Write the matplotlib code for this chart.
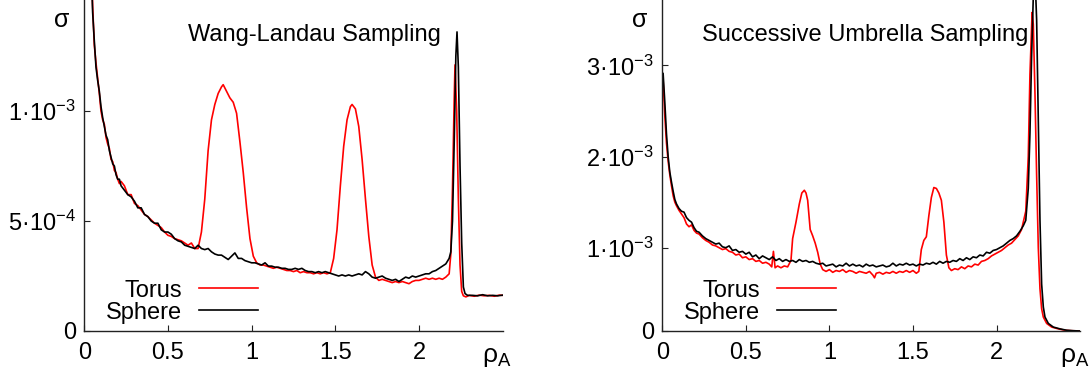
import matplotlib
matplotlib.use("Agg")
import matplotlib.pyplot as plt
import numpy as np

plt.rcParams['font.family'] = ['Liberation Sans', 'DejaVu Sans']
plt.rcParams['mathtext.fontset'] = 'custom'
plt.rcParams['mathtext.rm'] = 'Liberation Sans'
plt.rcParams['mathtext.it'] = 'Liberation Sans:italic'

FS = 17

# ---- Wang-Landau panel (sigma in units of 1e-4) ----
wl_sphere_x = [0.02, 0.04, 0.05, 0.06, 0.07, 0.08, 0.09, 0.10, 0.11, 0.12, 0.13, 0.14, 0.15,
               0.16, 0.17, 0.18, 0.19, 0.20, 0.21, 0.22, 0.24, 0.26, 0.28, 0.30, 0.32, 0.34,
               0.36, 0.38, 0.40, 0.42, 0.44, 0.46, 0.48, 0.50, 0.52, 0.54, 0.56, 0.58, 0.60,
               0.62, 0.64, 0.66, 0.68, 0.70, 0.72, 0.74, 0.76, 0.78, 0.80, 0.82, 0.84, 0.86,
               0.88, 0.90, 0.92, 0.94, 0.96, 0.98, 1.00, 1.02, 1.04, 1.06, 1.08, 1.10, 1.12,
               1.14, 1.16, 1.18, 1.20, 1.22, 1.24, 1.26, 1.28, 1.30, 1.32, 1.34, 1.36, 1.38,
               1.40, 1.42, 1.44, 1.46, 1.48, 1.50, 1.52, 1.54, 1.56, 1.58, 1.60, 1.62, 1.64,
               1.66, 1.68, 1.70, 1.72, 1.74, 1.76, 1.78, 1.80, 1.82, 1.84, 1.86, 1.88, 1.90,
               1.92, 1.94, 1.96, 1.98, 2.00, 2.02, 2.04, 2.06, 2.08, 2.10, 2.12, 2.14, 2.16,
               2.18, 2.19, 2.20, 2.21, 2.22, 2.227, 2.235, 2.245, 2.255, 2.265, 2.275, 2.29,
               2.32, 2.35, 2.38, 2.41, 2.44, 2.47, 2.50]
wl_sphere_y = [25, 17, 14.5, 13.2, 12.0, 11.4, 10.9, 10.2, 9.7, 9.3, 8.9, 8.7, 8.2,
               7.9, 7.6, 7.5, 7.1, 6.9, 6.9, 6.6, 6.4, 6.2, 6.1, 5.9, 5.6, 5.6,
               5.3, 5.2, 5.0, 4.9, 4.9, 4.6, 4.5, 4.5, 4.4, 4.2, 4.1, 4.05, 3.9,
               3.85, 3.8, 3.75, 3.9, 3.75, 3.7, 3.75, 3.6, 3.5, 3.45, 3.45, 3.35, 3.25,
               3.4, 3.55, 3.3, 3.3, 3.2, 3.15, 3.1, 3.1, 3.05, 3.0, 3.1, 2.95, 2.95,
               2.9, 2.9, 2.85, 2.85, 2.8, 2.8, 2.85, 2.8, 2.85, 2.75, 2.7, 2.7, 2.65,
               2.7, 2.65, 2.7, 2.65, 2.6, 2.55, 2.5, 2.55, 2.5, 2.55, 2.5, 2.55, 2.6,
               2.55, 2.7, 2.6, 2.45, 2.4, 2.45, 2.5, 2.4, 2.35, 2.3, 2.35, 2.25, 2.35,
               2.45, 2.4, 2.5, 2.45, 2.5, 2.55, 2.6, 2.6, 2.7, 2.75, 2.85, 2.95, 3.05,
               3.3, 3.6, 5.0, 8.5, 12.5, 13.6, 12.0, 7.5, 4.0, 2.0, 1.7, 1.62,
               1.62, 1.6, 1.65, 1.6, 1.62, 1.6, 1.63]

wl_torus_x = [0.02, 0.04, 0.05, 0.06, 0.07, 0.08, 0.09, 0.10, 0.11, 0.12, 0.13, 0.14, 0.15,
              0.16, 0.17, 0.18, 0.19, 0.20, 0.21, 0.22, 0.24, 0.26, 0.28, 0.30, 0.32, 0.34,
              0.36, 0.38, 0.40, 0.42, 0.44, 0.46, 0.48, 0.50, 0.52, 0.54, 0.56, 0.58, 0.60,
              0.62, 0.64, 0.66, 0.68, 0.70, 0.72, 0.74, 0.76, 0.78, 0.80, 0.82, 0.83, 0.85,
              0.87, 0.89, 0.91, 0.93, 0.95, 0.97, 0.99, 1.01, 1.03, 1.05, 1.07, 1.09, 1.11,
              1.13, 1.15, 1.17, 1.19, 1.21, 1.23, 1.25, 1.27, 1.29, 1.31, 1.33, 1.35, 1.37,
              1.39, 1.41, 1.43, 1.45, 1.47, 1.49, 1.51, 1.53, 1.55, 1.57, 1.59, 1.60, 1.62,
              1.64, 1.66, 1.68, 1.70, 1.72, 1.74, 1.76, 1.78, 1.80, 1.82, 1.84, 1.86, 1.88,
              1.90, 1.92, 1.94, 1.96, 1.98, 2.00, 2.02, 2.04, 2.06, 2.08, 2.10, 2.12, 2.14,
              2.16, 2.18, 2.19, 2.20, 2.21, 2.215, 2.225, 2.235, 2.245, 2.255, 2.265, 2.28,
              2.30, 2.33, 2.36, 2.39, 2.42, 2.45, 2.48, 2.50]
wl_torus_y = [25, 17.5, 14.8, 13.0, 12.2, 11.5, 10.8, 10.0, 9.6, 9.4, 8.8, 8.5, 8.3,
              7.8, 7.7, 7.3, 7.2, 6.9, 6.7, 6.8, 6.6, 6.2, 6.2, 5.8, 5.7, 5.5,
              5.3, 5.2, 5.05, 4.9, 4.8, 4.7, 4.5, 4.35, 4.3, 4.2, 4.15, 4.1, 4.0,
              3.9, 4.0, 3.75, 3.75, 4.5, 6.0, 8.2, 9.6, 10.3, 10.8, 11.1, 11.2, 10.9,
              10.6, 10.4, 9.9, 8.6, 7.2, 5.6, 4.2, 3.4, 3.1, 3.0, 3.0, 2.95, 2.9,
              2.85, 2.9, 2.85, 2.8, 2.75, 2.75, 2.7, 2.75, 2.65, 2.7, 2.65, 2.65, 2.6,
              2.65, 2.6, 2.65, 2.6, 2.65, 3.3, 4.6, 6.6, 8.4, 9.6, 10.2, 10.3, 10.1,
              9.3, 7.8, 6.0, 4.3, 3.0, 2.45, 2.3, 2.35, 2.3, 2.25, 2.2, 2.25, 2.2,
              2.25, 2.2, 2.15, 2.25, 2.3, 2.3, 2.35, 2.4, 2.35, 2.4, 2.35, 2.4, 2.35,
              2.45, 2.6, 3.5, 6.5, 10.5, 12.1, 10.0, 6.0, 3.0, 1.8, 1.6, 1.55,
              1.62, 1.58, 1.63, 1.6, 1.62, 1.58, 1.63, 1.62]

# ---- Successive Umbrella panel (sigma in units of 1e-3) ----
sus_sphere_x = [0.005, 0.015, 0.025, 0.035, 0.045, 0.055, 0.065, 0.075, 0.085, 0.10, 0.115,
                0.13, 0.145, 0.16, 0.175, 0.19, 0.205, 0.22, 0.24, 0.26, 0.28, 0.30, 0.32,
                0.34, 0.36, 0.38, 0.40, 0.42, 0.44, 0.46, 0.48, 0.50, 0.52, 0.54, 0.56,
                0.58, 0.60, 0.62, 0.64, 0.66, 0.68, 0.70, 0.72, 0.74, 0.76, 0.78, 0.80,
                0.82, 0.84, 0.86, 0.88, 0.90, 0.92, 0.94, 0.96, 0.98, 1.00, 1.02, 1.04,
                1.06, 1.08, 1.10, 1.12, 1.14, 1.16, 1.18, 1.20, 1.22, 1.24, 1.26, 1.28,
                1.30, 1.32, 1.34, 1.36, 1.38, 1.40, 1.42, 1.44, 1.46, 1.48, 1.50, 1.52,
                1.54, 1.56, 1.58, 1.60, 1.62, 1.64, 1.66, 1.68, 1.70, 1.72, 1.74, 1.76,
                1.78, 1.80, 1.82, 1.84, 1.86, 1.88, 1.90, 1.92, 1.94, 1.96, 1.98, 2.00,
                2.02, 2.04, 2.06, 2.08, 2.10, 2.12, 2.14, 2.16, 2.175, 2.19, 2.20, 2.21,
                2.22, 2.23, 2.24, 2.25, 2.26, 2.27, 2.28, 2.29, 2.31, 2.34, 2.38, 2.42,
                2.46, 2.50]
sus_sphere_y = [2.91, 2.6, 2.25, 2.0, 1.83, 1.72, 1.62, 1.53, 1.48, 1.43, 1.40,
                1.39, 1.33, 1.30, 1.28, 1.22, 1.18, 1.17, 1.13, 1.10, 1.08, 1.06, 1.04,
                1.05, 1.01, 1.00, 1.02, 0.97, 0.98, 0.95, 0.96, 0.93, 0.95, 0.90, 0.92,
                0.88, 0.91, 0.89, 0.87, 0.90, 0.86, 0.88, 0.85, 0.87, 0.85, 0.86, 0.84,
                0.87, 0.85, 0.86, 0.84, 0.85, 0.83, 0.82, 0.83, 0.80, 0.81, 0.82, 0.79,
                0.81, 0.80, 0.83, 0.80, 0.82, 0.80, 0.81, 0.79, 0.82, 0.80, 0.81, 0.79,
                0.80, 0.81, 0.79, 0.80, 0.83, 0.80, 0.82, 0.81, 0.83, 0.81, 0.82, 0.80,
                0.82, 0.81, 0.83, 0.82, 0.84, 0.82, 0.85, 0.83, 0.85, 0.84, 0.86, 0.85,
                0.88, 0.86, 0.89, 0.87, 0.90, 0.89, 0.92, 0.91, 0.95, 0.94, 0.97, 0.98,
                1.00, 1.02, 1.05, 1.08, 1.10, 1.13, 1.18, 1.24, 1.30, 1.65, 2.25, 3.1,
                3.75, 4.0, 3.5, 2.4, 1.3, 0.6, 0.35, 0.24, 0.17, 0.13, 0.11, 0.095,
                0.09, 0.087]

sus_torus_x = [0.005, 0.015, 0.025, 0.035, 0.045, 0.055, 0.065, 0.075, 0.085, 0.10, 0.115,
               0.13, 0.145, 0.16, 0.175, 0.19, 0.205, 0.22, 0.24, 0.26, 0.28, 0.30, 0.32,
               0.34, 0.36, 0.38, 0.40, 0.42, 0.44, 0.46, 0.48, 0.50, 0.52, 0.54, 0.56,
               0.58, 0.60, 0.62, 0.64, 0.655, 0.665, 0.675, 0.69, 0.71, 0.73, 0.75, 0.77,
               0.78, 0.80, 0.82, 0.835, 0.85, 0.86, 0.87, 0.885, 0.90, 0.915, 0.93, 0.945,
               0.96, 0.98, 1.00, 1.02, 1.04, 1.06, 1.08, 1.10, 1.12, 1.14, 1.16, 1.18,
               1.20, 1.22, 1.24, 1.26, 1.27, 1.28, 1.30, 1.32, 1.34, 1.36, 1.38, 1.40,
               1.42, 1.44, 1.46, 1.48, 1.50, 1.52, 1.535, 1.55, 1.565, 1.58, 1.595, 1.61,
               1.625, 1.64, 1.655, 1.67, 1.685, 1.70, 1.715, 1.73, 1.75, 1.77, 1.79, 1.81,
               1.83, 1.85, 1.87, 1.89, 1.91, 1.93, 1.95, 1.97, 1.99, 2.01, 2.03, 2.05,
               2.07, 2.09, 2.11, 2.13, 2.15, 2.165, 2.175, 2.19, 2.20, 2.213, 2.22, 2.23,
               2.24, 2.25, 2.26, 2.27, 2.28, 2.30, 2.33, 2.37, 2.41, 2.45, 2.50]
sus_torus_y = [2.84, 2.45, 2.15, 1.95, 1.80, 1.68, 1.57, 1.50, 1.46, 1.41, 1.37,
               1.33, 1.26, 1.23, 1.25, 1.19, 1.16, 1.15, 1.11, 1.08, 1.06, 1.03, 1.02,
               1.00, 0.98, 0.99, 0.96, 0.95, 0.92, 0.93, 0.89, 0.90, 0.87, 0.88, 0.85,
               0.86, 0.83, 0.84, 0.82, 0.79, 0.96, 0.78, 0.80, 0.78, 0.80, 0.79, 0.86,
               1.10, 1.28, 1.48, 1.60, 1.63, 1.60, 1.52, 1.20, 1.13, 1.05, 0.95, 0.82,
               0.76, 0.74, 0.76, 0.73, 0.75, 0.74, 0.76, 0.73, 0.75, 0.74, 0.72, 0.74,
               0.73, 0.72, 0.74, 0.70, 0.67, 0.72, 0.73, 0.71, 0.73, 0.72, 0.74, 0.72,
               0.74, 0.73, 0.75, 0.73, 0.75, 0.72, 0.74, 0.98, 1.08, 1.12, 1.35, 1.55,
               1.66, 1.65, 1.60, 1.52, 1.28, 0.92, 0.78, 0.75, 0.77, 0.76, 0.79, 0.77,
               0.80, 0.79, 0.82, 0.81, 0.85, 0.86, 0.88, 0.91, 0.93, 0.95, 0.97, 1.00,
               1.03, 1.05, 1.09, 1.13, 1.20, 1.32, 1.40, 2.0, 2.9, 3.58, 3.45, 2.7,
               1.8, 1.0, 0.55, 0.33, 0.24, 0.17, 0.13, 0.11, 0.095, 0.09, 0.087]

legend_labels = ['Torus', 'Sphere']
titles = ['Wang-Landau Sampling', 'Successive Umbrella Sampling']

wl_ticks = [0, 5e-4, 1e-3]
wl_ticklabels = ['0', '5·10$^{-4}$', '1·10$^{-3}$']
sus_ticks = [0.087e-3, 1e-3, 2e-3, 3e-3]
sus_ticklabels = ['0', '1·10$^{-3}$', '2·10$^{-3}$', '3·10$^{-3}$']
x_ticks = [0, 0.5, 1, 1.5, 2]
x_ticklabels = ['0', '0.5', '1', '1.5', '2']

fig = plt.figure(figsize=(10.9, 3.74), dpi=100)
ax1 = fig.add_axes([0.0773, 0.115, 0.3839, 0.885])
ax2 = fig.add_axes([0.6076, 0.115, 0.3833, 0.885])

ax1.plot(wl_torus_x, np.array(wl_torus_y) * 1e-4, color='#ff0000', lw=1.2, label=legend_labels[0])
ax1.plot(wl_sphere_x, np.array(wl_sphere_y) * 1e-4, color='black', lw=1.2, label=legend_labels[1])
ax1.set_ylim(0, 1.505e-3)
ax1.set_yticks(wl_ticks)
ax1.set_yticklabels(wl_ticklabels)

ax2.plot(sus_torus_x, np.array(sus_torus_y) * 1e-3, color='#ff0000', lw=1.2, label=legend_labels[0])
ax2.plot(sus_sphere_x, np.array(sus_sphere_y) * 1e-3, color='black', lw=1.2, label=legend_labels[1])
ax2.set_ylim(0.087e-3, 3.716e-3)
ax2.set_yticks(sus_ticks)
ax2.set_yticklabels(sus_ticklabels)

for ax, title in zip([ax1, ax2], titles):
    ax.set_xlim(0, 2.5)
    ax.set_xticks(x_ticks)
    ax.set_xticklabels(x_ticklabels)
    ax.spines['top'].set_visible(False)
    ax.spines['right'].set_visible(False)
    for s in ['left', 'bottom']:
        ax.spines[s].set_linewidth(1.0)
        ax.spines[s].set_color('#222222')
    ax.tick_params(direction='in', length=4, width=0.8, labelsize=FS, colors='#222222')
    ax.tick_params(axis='x', pad=8, labelcolor='black')
    ax.tick_params(axis='y', pad=6, labelcolor='black')
    ax.patch.set_visible(False)
    ax.text(-0.053, 0.94, 'σ', transform=ax.transAxes, fontsize=FS + 1, ha='center', va='center')
    ax.text(0.987, -0.08, r'ρ$_{\mathrm{A}}$', transform=ax.transAxes, fontsize=FS + 2,
            ha='center', va='center', clip_on=False)
    ax.legend(loc='center right', bbox_to_anchor=(0.415, 0.089), frameon=False,
              markerfirst=False, fontsize=FS, handlelength=2.5, handletextpad=0.7,
              borderpad=0, borderaxespad=0, labelspacing=0.0)

ax1.text(0.551, 0.894, titles[0], transform=ax1.transAxes, fontsize=FS,
         ha='center', va='center')
ax2.text(0.485, 0.894, titles[1], transform=ax2.transAxes, fontsize=FS,
         ha='center', va='center')

fig.savefig('out.png', dpi=100)
